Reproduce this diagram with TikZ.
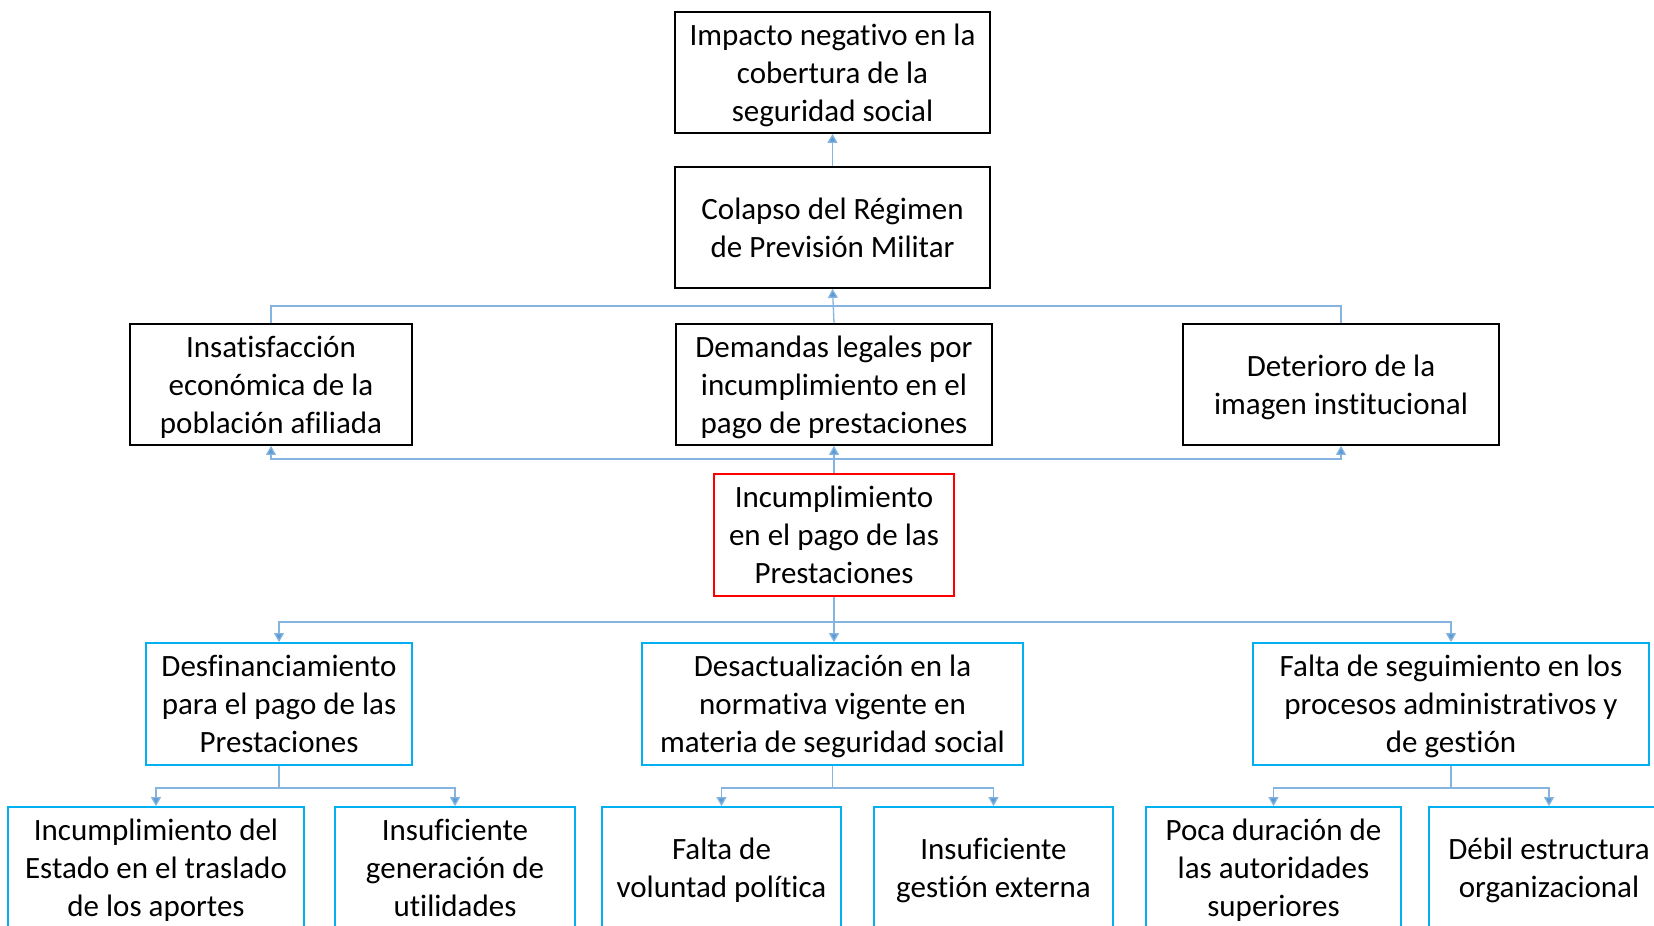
\documentclass[tikz,border=0pt]{standalone}
\usepackage{fontspec}
\setmainfont[Ligatures=NoCommon]{Carlito}
\usetikzlibrary{arrows.meta}
\definecolor{lnk}{RGB}{91,155,213}
\definecolor{cyanb}{RGB}{0,176,240}
\newcommand{\boxtxt}[1]{\raisebox{-3pt}[\height][\depth]{\begin{tabular}{@{}c@{}}#1\end{tabular}}}
\begin{document}
\begin{tikzpicture}[x=1pt,y=-1pt,
  every node/.style={font=\fontsize{31}{38}\selectfont, inner sep=0pt},
  eff/.style={draw=black, line width=1.8pt},
  cause/.style={draw=cyanb, line width=1.8pt},
  core/.style={draw=red, line width=1.8pt},
  link/.style={draw=lnk!75, line width=1.3pt},
  arr/.style={link, -{Triangle[width=10pt,length=9pt,fill=lnk]}}]
\useasboundingbox (0,0) rectangle (1654,926);
\clip (0,0) rectangle (1654,926);
\fill[white] (0,0) rectangle (1654,926);
% effects
\node[eff, minimum width=315pt, minimum height=121pt] (imp) at (832.5,72.5) {\boxtxt{Impacto negativo en la\\cobertura de la\\seguridad social}};
\node[eff, minimum width=315pt, minimum height=121pt] (col) at (832.5,227.5) {\boxtxt{Colapso del Régimen\\de Previsión Militar}};
\node[eff, minimum width=282pt, minimum height=121pt] (ins) at (271,384.5) {\boxtxt{Insatisfacción\\económica de la\\población afiliada}};
\node[eff, minimum width=316pt, minimum height=121pt] (dem) at (834,384.5) {\boxtxt{Demandas legales por\\incumplimiento en el\\pago de prestaciones}};
\node[eff, minimum width=316pt, minimum height=121pt] (det) at (1341,384.5) {\boxtxt{Deterioro de la\\imagen institucional}};
% core
\node[core, minimum width=240pt, minimum height=122pt] (inc) at (834,535) {\boxtxt{Incumplimiento\\en el pago de las\\Prestaciones}};
% causes
\node[cause, minimum width=266pt, minimum height=122pt] (desf) at (279,704) {\boxtxt{Desfinanciamiento\\para el pago de las\\Prestaciones}};
\node[cause, minimum width=381pt, minimum height=122pt] (desa) at (832.5,704) {\boxtxt{Desactualización en la\\normativa vigente en\\materia de seguridad social}};
\node[cause, minimum width=396pt, minimum height=122pt] (falta) at (1451,704) {\boxtxt{Falta de seguimiento en los\\procesos administrativos y\\de gestión}};
\node[cause, minimum width=296pt, minimum height=121pt] (b1) at (156,867.5) {\boxtxt{Incumplimiento del\\Estado en el traslado\\de los aportes}};
\node[cause, minimum width=240pt, minimum height=121pt] (b2) at (455,867.5) {\boxtxt{Insuficiente\\generación de\\utilidades}};
\node[cause, minimum width=239pt, minimum height=121pt] (b3) at (721.5,867.5) {\boxtxt{Falta de\\voluntad política}};
\node[cause, minimum width=239pt, minimum height=121pt] (b4) at (993.5,867.5) {\boxtxt{Insuficiente\\gestión externa}};
\node[cause, minimum width=255pt, minimum height=121pt] (b5) at (1273.5,867.5) {\boxtxt{Poca duración de\\las autoridades\\superiores}};
\node[cause, minimum width=240pt, minimum height=121pt] (b6) at (1549,867.5) {\boxtxt{Débil estructura\\organizacional}};
% connectors: effects
\draw[arr] (col.north) -- (imp.south);
\draw[link] (ins.north) -- ++(0,-17) -| (det.north);
\draw[arr] (dem.north) -- (col.south);
\path (inc.north) ++(0,-14) coordinate (jb);
\draw[arr] (inc.north) -- (dem.south);
\draw[arr] (jb) -| (ins.south);
\draw[arr] (jb) -| (det.south);
% connectors: causes
\path (inc.south) ++(0,25) coordinate (jc);
\draw[arr] (inc.south) -- (inc.south |- desa.north);
\draw[arr] (jc) -| (desf.north);
\draw[arr] (jc) -| (falta.north);
\draw[arr] (desf.south) -- ++(0,22) -| (b1.north);
\draw[arr] (desf.south) -- ++(0,22) -| (b2.north);
\draw[arr] (desa.south) -- ++(0,22) -| (b3.north);
\draw[arr] (desa.south) -- ++(0,22) -| (b4.north);
\draw[arr] (falta.south) -- ++(0,22) -| (b5.north);
\draw[arr] (falta.south) -- ++(0,22) -| (b6.north);
\end{tikzpicture}
\end{document}
